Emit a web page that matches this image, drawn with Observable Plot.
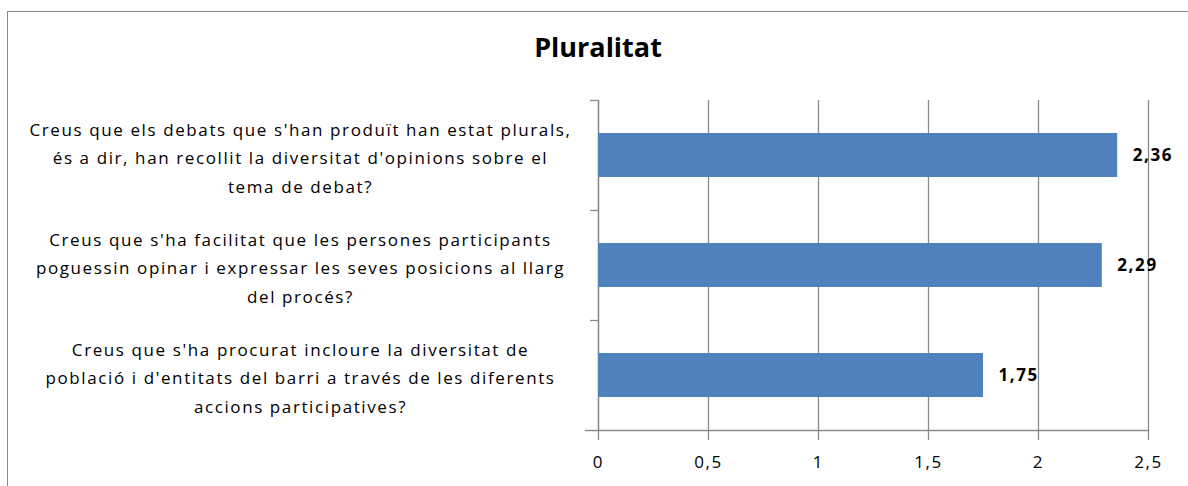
<!DOCTYPE html>
<html>
<head>
<meta charset="utf-8">
<script src="https://cdn.jsdelivr.net/npm/d3@7"></script>
<script src="https://cdn.jsdelivr.net/npm/@observablehq/plot@0.6"></script>
<style>
  html, body { margin: 0; padding: 0; background: #fff; }
  #wrap { position: relative; width: 1188px; height: 486px; overflow: hidden; }
  #border { position: absolute; left: 7px; top: 11px; width: 1300px; height: 600px;
            border-left: 1.5px solid #8a8a8a; border-top: 1.5px solid #8a8a8a; }
  #title { position: absolute; left: 0; top: 29px; width: 1196px; text-align: center;
           font-family: "Open Sans", sans-serif; font-weight: bold; font-size: 27px; color: #000; line-height: 36px; }
  #chart { position: absolute; left: 0; top: 0; }
  #chart text { letter-spacing: 1.6px; }
</style>
</head>
<body>
<div id="wrap">
  <div id="border"></div>
  <div id="chart"></div>
  <div id="title">Pluralitat</div>
</div>
<script>
const questions = [
  "Creus que els debats que s'han produït han estat plurals,\nés a dir, han recollit la diversitat d'opinions sobre el\ntema de debat?",
  "Creus que s'ha facilitat que les persones participants\npoguessin opinar i expressar les seves posicions al llarg\ndel procés?",
  "Creus que s'ha procurat incloure la diversitat de\npoblació i d'entitats del barri a través de les diferents\naccions participatives?"
];
const values = [2.36, 2.29, 1.75];
const xTicks = [0, 0.5, 1, 1.5, 2, 2.5];

const data = questions.map((q, i) => ({q, v: values[i]}));
const fmt = d => String(d).replace(".", ",");
const gray = "#8a8a8a";

const chart = Plot.plot({
  width: 1188,
  height: 486,
  marginLeft: 598,
  marginRight: 40,
  marginTop: 100,
  marginBottom: 56,
  style: {fontFamily: "Open Sans, sans-serif", fontSize: "17px", color: "#000", background: "transparent", overflow: "visible"},
  x: {domain: [0, 2.5], ticks: xTicks, axis: null},
  y: {domain: questions, paddingInner: 0.6, paddingOuter: 0.3, axis: null},
  marks: [
    Plot.gridX(xTicks, {stroke: gray, strokeOpacity: 1, strokeWidth: 1.3}),
    Plot.ruleX([0], {stroke: gray, strokeWidth: 1.3}),
    Plot.barX(data, {y: "q", x: "v", fill: "#4f81bd"}),
    Plot.frame({anchor: "bottom", stroke: gray, strokeWidth: 1.3, insetLeft: -13}),
    Plot.axisX({ticks: xTicks, tickSize: 10, tickPadding: 15, stroke: gray, strokeWidth: 1.3, strokeOpacity: 1,
                tickFormat: fmt, fontSize: 17, fill: "#000", label: null}),
    Plot.axisY({tickSize: 8, dy: -55, stroke: gray, strokeWidth: 1.3, strokeOpacity: 1, tickFormat: () => "", label: null}),
    Plot.text(data, {y: "q", text: "q", frameAnchor: "left", dx: -298, textAnchor: "middle",
                     lineHeight: 1.65, fontSize: 17, fill: "#000"}),
    Plot.text(data, {y: "q", x: "v", text: d => fmt(d.v), dx: 15, textAnchor: "start",
                     fontWeight: "bold", fontSize: 17, fill: "#000"})
  ]
});
document.getElementById("chart").appendChild(chart);
</script>
</body>
</html>
